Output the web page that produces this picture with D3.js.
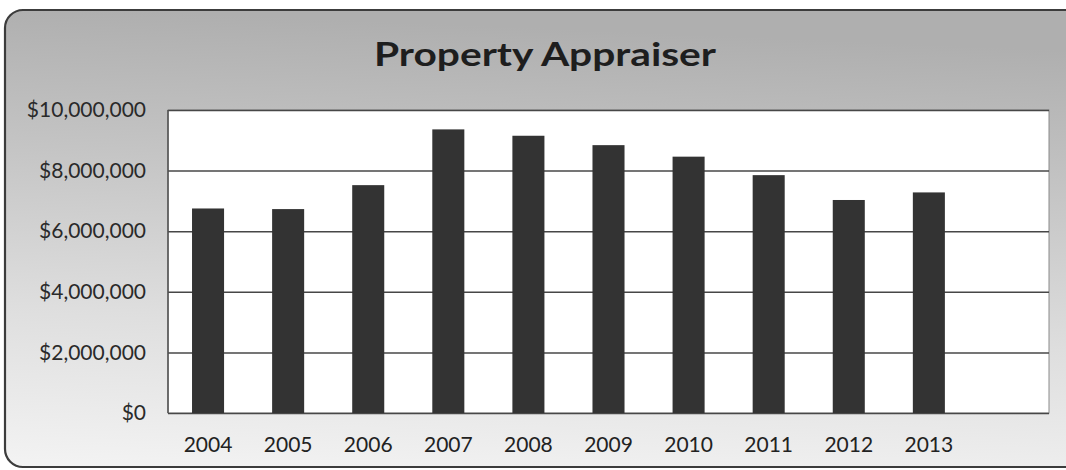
<!DOCTYPE html>
<html>
<head>
<meta charset="utf-8">
<script src="https://cdn.jsdelivr.net/npm/d3@7/dist/d3.min.js"></script>
<style>
  html, body { margin: 0; padding: 0; background: #fff; }
  svg { display: block; }
</style>
</head>
<body>
<svg id="chart" width="1066" height="470"></svg>
<script>
// Annual budget, Property Appraiser
const years = ["2004", "2005", "2006", "2007", "2008", "2009", "2010", "2011", "2012", "2013"];
const amounts = [6750000, 6730000, 7520000, 9360000, 9150000, 8840000, 8460000, 7850000, 7030000, 7280000];
const yTicks = [0, 2000000, 4000000, 6000000, 8000000, 10000000];
const chartTitle = "Property Appraiser";

const svg = d3.select("#chart");
const FONT = "Lato, 'Open Sans', sans-serif";

const defs = svg.append("defs");
const grad = defs.append("linearGradient")
  .attr("id", "bg").attr("x1", 0.1).attr("y1", 0).attr("x2", 0).attr("y2", 1);
grad.append("stop").attr("offset", "0%").attr("stop-color", "#afafaf");
grad.append("stop").attr("offset", "30%").attr("stop-color", "#c4c4c4");
grad.append("stop").attr("offset", "65%").attr("stop-color", "#dedede");
grad.append("stop").attr("offset", "100%").attr("stop-color", "#f3f3f3");

// chart frame with rounded corners
svg.append("rect")
  .attr("x", 5).attr("y", 10).attr("width", 1080).attr("height", 457)
  .attr("rx", 18).attr("ry", 18)
  .attr("fill", "url(#bg)")
  .attr("stroke", "#3c3c3c").attr("stroke-width", 2.2);

// plot area
const plot = { left: 168, top: 110, right: 1049, bottom: 413 };
const plotW = plot.right - plot.left;

const y = d3.scaleLinear().domain([0, 10000000]).range([plot.bottom, plot.top]);
// ten category slots occupy the first 10/11 of the plot width
const x = d3.scaleBand().domain(years)
  .range([plot.left, plot.left + plotW * 10 / 11])
  .paddingInner(0.6).paddingOuter(0.3);

svg.append("rect")
  .attr("x", plot.left).attr("y", plot.top)
  .attr("width", plotW).attr("height", plot.bottom - plot.top)
  .attr("fill", "#ffffff")
  .attr("stroke", "#8a8a8a").attr("stroke-width", 1);

// gridlines
const yAxisGrid = d3.axisLeft(y).tickValues(yTicks).tickSize(-plotW).tickFormat("");
svg.append("g")
  .attr("transform", `translate(${plot.left},0)`)
  .call(yAxisGrid)
  .call(g => g.select(".domain").remove())
  .call(g => g.selectAll("line").attr("stroke", "#474747").attr("stroke-width", 1.5));

// left axis line
svg.append("line")
  .attr("x1", plot.left).attr("x2", plot.left)
  .attr("y1", plot.top).attr("y2", plot.bottom)
  .attr("stroke", "#505050").attr("stroke-width", 1.5);

// bars
svg.append("g").selectAll("rect")
  .data(years.map((yr, i) => ({ yr, v: amounts[i] })))
  .join("rect")
  .attr("x", d => x(d.yr))
  .attr("y", d => y(d.v))
  .attr("width", x.bandwidth())
  .attr("height", d => y(0) - y(d.v))
  .attr("fill", "#333333");

// y tick labels
const fmt = v => "$" + d3.format(",")(v);
const yAxis = d3.axisLeft(y).tickValues(yTicks).tickSize(0).tickPadding(22).tickFormat(fmt);
svg.append("g")
  .attr("transform", `translate(${plot.left},0)`)
  .call(yAxis)
  .call(g => g.select(".domain").remove())
  .call(g => g.selectAll("text")
    .attr("font-family", FONT)
    .attr("font-size", 21)
    .attr("fill", "#2a2a2a"));

// x tick labels
const xAxis = d3.axisBottom(x).tickSize(0).tickPadding(24);
svg.append("g")
  .attr("transform", `translate(0,${plot.bottom})`)
  .call(xAxis)
  .call(g => g.select(".domain").remove())
  .call(g => g.selectAll("text")
    .attr("font-family", FONT)
    .attr("font-size", 21)
    .attr("fill", "#222"));

// title
svg.append("text")
  .attr("x", 545).attr("y", 66)
  .attr("text-anchor", "middle")
  .attr("font-family", FONT)
  .attr("font-weight", "bold")
  .attr("font-size", 32)
  .attr("textLength", 342)
  .attr("lengthAdjust", "spacingAndGlyphs")
  .attr("fill", "#1e1e1e")
  .text(chartTitle);
</script>
</body>
</html>
